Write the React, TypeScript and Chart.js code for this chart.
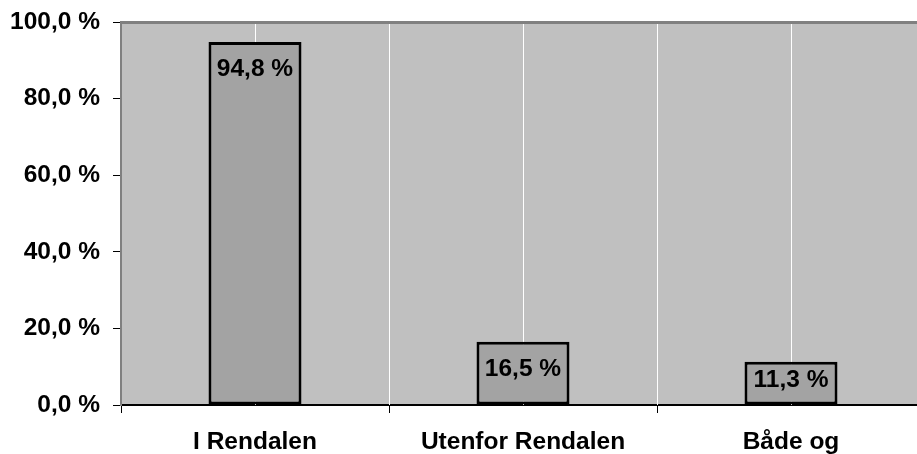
import { useEffect, useRef } from 'react';
import { Chart, registerables } from 'chart.js';

Chart.register(...registerables);

const categories = ['I Rendalen', 'Utenfor Rendalen', 'Både og'];
const shares = [94.8, 16.5, 11.3];
const yTicks = [0, 20, 40, 60, 80, 100];

const FONT = '"Liberation Sans", Arial, sans-serif';
const FONT_SIZE = 24.5;
const fmt = (v: number) => v.toFixed(1).replace('.', ',') + ' %';

export default function App() {
  const ref = useRef<HTMLCanvasElement>(null);

  useEffect(() => {
    if (!ref.current) return;

    const plotBg = {
      id: 'plotBg',
      beforeDraw(chart: any) {
        const { ctx, chartArea: a } = chart;
        ctx.save();
        ctx.fillStyle = '#C0C0C0';
        ctx.fillRect(a.left, a.top, a.right - a.left, a.bottom - a.top);
        ctx.restore();
      },
      beforeDatasetsDraw(chart: any) {
        const { ctx, chartArea: a } = chart;
        const xs = chart.scales.x;
        const n = categories.length;
        const half = n > 1 ? (xs.getPixelForValue(1) - xs.getPixelForValue(0)) / 2 : (a.right - a.left) / 2;
        const lines: number[] = [];
        for (let i = 0; i < n; i++) {
          const c = xs.getPixelForValue(i);
          lines.push(c, c + half);
        }
        ctx.save();
        ctx.strokeStyle = '#FFFFFF';
        ctx.lineWidth = 1;
        lines.forEach((px) => {
          const x = Math.round(px) + 0.5;
          ctx.beginPath();
          ctx.moveTo(x, a.top);
          ctx.lineTo(x, a.bottom);
          ctx.stroke();
        });
        ctx.strokeStyle = '#808080';
        ctx.lineWidth = 3;
        ctx.beginPath();
        ctx.moveTo(a.left, a.top + 0.5);
        ctx.lineTo(a.right, a.top + 0.5);
        ctx.stroke();
        ctx.restore();
      },
    };

    const valueLabels = {
      id: 'valueLabels',
      afterDatasetsDraw(chart: any) {
        const { ctx } = chart;
        const meta = chart.getDatasetMeta(0);
        ctx.save();
        ctx.fillStyle = '#000000';
        ctx.font = `bold ${FONT_SIZE}px ${FONT}`;
        ctx.textAlign = 'center';
        ctx.textBaseline = 'middle';
        meta.data.forEach((bar: any, i: number) => {
          const { x, y, base } = bar.getProps(['x', 'y', 'base'], true);
          const ty = Math.min(y + 27, (y + base) / 2 - 3);
          ctx.fillText(fmt(shares[i]), x, ty);
        });
        ctx.restore();
      },
    };

    const chart = new Chart(ref.current, {
      type: 'bar',
      data: {
        labels: categories,
        datasets: [
          {
            data: shares,
            backgroundColor: '#A3A3A3',
            borderColor: '#000000',
            borderWidth: 3,
            borderSkipped: false,
            barPercentage: 0.347,
            categoryPercentage: 1,
          },
        ],
      },
      options: {
        animation: false,
        responsive: false,
        layout: { padding: { top: 22, left: 0, right: 0, bottom: 0 } },
        plugins: {
          legend: { display: false },
          tooltip: { enabled: false },
        },
        scales: {
          x: {
            type: 'category',
            offset: true,
            grid: {
              offset: true,
              drawOnChartArea: false,
              drawTicks: true,
              tickLength: 8,
              tickColor: '#000000',
              tickWidth: 1,
            },
            border: { color: '#000000', width: 2 },
            ticks: {
              color: '#000000',
              font: { family: FONT, size: FONT_SIZE, weight: 'bold' },
              padding: 15,
              maxRotation: 0,
              autoSkip: false,
            },
            afterFit(s: any) {
              s.height = 49;
              s.paddingLeft = 0;
              s.paddingRight = 0;
            },
          },
          y: {
            min: 0,
            max: 100,
            afterBuildTicks(s: any) {
              s.ticks = yTicks.map((v) => ({ value: v }));
            },
            ticks: {
              color: '#000000',
              font: { family: FONT, size: FONT_SIZE, weight: 'bold' },
              padding: 13,
              callback: (v: any) => fmt(Number(v)),
            },
            grid: {
              drawOnChartArea: false,
              drawTicks: true,
              tickLength: 8,
              tickColor: '#000000',
              tickWidth: 1,
            },
            border: { color: '#808080', width: 2 },
            afterFit(s: any) {
              s.width = 121;
              s.paddingTop = 0;
              s.paddingBottom = 0;
            },
          },
        },
      },
      plugins: [plotBg, valueLabels],
    } as any);

    return () => chart.destroy();
  }, []);

  return (
    <div
      style={{
        position: 'fixed',
        left: 0,
        top: 0,
        width: 917,
        height: 454,
        overflow: 'hidden',
        background: '#FFFFFF',
      }}
    >
      <canvas ref={ref} width={925} height={454} style={{ display: 'block' }} />
    </div>
  );
}
